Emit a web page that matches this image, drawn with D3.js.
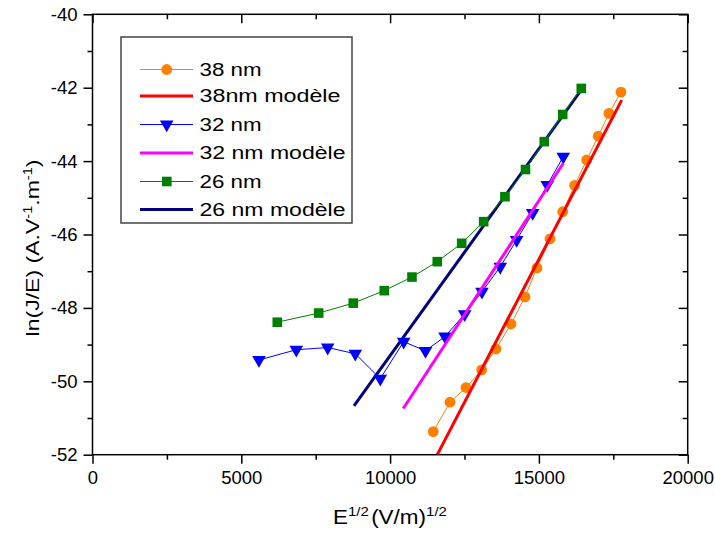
<!DOCTYPE html>
<html><head><meta charset="utf-8">
<script src="https://cdn.jsdelivr.net/npm/d3@7"></script>
<style>
body{margin:0;background:#fff;}
text{font-family:"Liberation Sans",Arial,sans-serif;fill:#000;}
</style></head>
<body>
<svg id="c" width="715" height="534"></svg>
<script>
// ---- data ----
const x38 = [11451,12012,12550,13077,13558,14062,14532,14935,15372,15799,16202,16605,16995,17354,17758];
const y38 = [-51.37,-50.57,-50.17,-49.69,-49.12,-48.44,-47.70,-46.91,-46.12,-45.38,-44.66,-43.97,-43.32,-42.70,-42.12];
const x32 = [5594,6848,7903,8830,9670,10456,11189,11844,12506,13087,13702,14253,14791,15281,15819];
const y32 = [-49.42,-49.14,-49.08,-49.25,-49.93,-48.92,-49.17,-48.78,-48.17,-47.56,-46.88,-46.15,-45.41,-44.65,-43.88];
const x26 = [6209,7600,8763,9804,10735,11585,12405,13144,13860,14549,15180,15799,16424];
const y26 = [-48.39,-48.14,-47.87,-47.53,-47.16,-46.74,-46.24,-45.65,-44.97,-44.23,-43.47,-42.73,-42.02];
const model38X = [11585,17781], model38Y = [-52,-42.34];
const model32X = [10443,15819], model32Y = [-50.74,-44.06];
const model26X = [8786,16424], model26Y = [-50.67,-42.06];
const xTicks = [0,5000,10000,15000,20000];
const yTicks = [-52,-50,-48,-46,-44,-42,-40];
const legendLabels = ["38 nm","38nm modèle","32 nm","32 nm modèle","26 nm","26 nm modèle"];

// ---- layout ----
const L=92.5, R=687.7, T=14.3, B=454.7;
const svg=d3.select("#c");
const x=d3.scaleLinear().domain([0,20000]).range([L,R]);
const y=d3.scaleLinear().domain([-52,-40]).range([B,T]);
const xMinor=d3.range(0,20001,2500).filter(v=>v%5000!==0);
const yMinor=d3.range(-51,-40,2);

svg.append("clipPath").attr("id","pc").append("rect")
  .attr("x",L).attr("y",T).attr("width",R-L).attr("height",B-T);

// axes (bottom/left outward, top/right inward)
function fmt(d){return d3.format("d")(d).replace("−","-");}
const gB=svg.append("g").attr("transform",`translate(0,${B})`)
  .call(d3.axisBottom(x).tickValues(xTicks).tickSize(9).tickSizeOuter(0).tickPadding(7).tickFormat(fmt));
gB.append("g").call(d3.axisBottom(x).tickValues(xMinor).tickSize(5).tickSizeOuter(0).tickFormat(""));
const gL=svg.append("g").attr("transform",`translate(${L},0)`)
  .call(d3.axisLeft(y).tickValues(yTicks).tickSize(9).tickSizeOuter(0).tickPadding(6).tickFormat(fmt));
gL.append("g").call(d3.axisLeft(y).tickValues(yMinor).tickSize(5).tickSizeOuter(0).tickFormat(""));
const gT=svg.append("g").attr("transform",`translate(0,${T})`)
  .call(d3.axisBottom(x).tickValues(xTicks).tickSize(9).tickSizeOuter(0).tickFormat(""));
gT.append("g").call(d3.axisBottom(x).tickValues(xMinor).tickSize(5).tickSizeOuter(0).tickFormat(""));
const gR=svg.append("g").attr("transform",`translate(${R},0)`)
  .call(d3.axisLeft(y).tickValues(yTicks).tickSize(9).tickSizeOuter(0).tickFormat(""));
gR.append("g").call(d3.axisLeft(y).tickValues(yMinor).tickSize(5).tickSizeOuter(0).tickFormat(""));
svg.selectAll(".domain").remove();
svg.selectAll(".tick line").attr("stroke","#000").attr("stroke-width",1.5);
svg.selectAll(".tick text").style("font-size","18.5px").style("font-family","Liberation Sans, Arial, sans-serif");
svg.append("rect").attr("x",L).attr("y",T).attr("width",R-L).attr("height",B-T)
  .attr("fill","none").attr("stroke","#000").attr("stroke-width",1.5);

// series
const plot=svg.append("g").attr("clip-path","url(#pc)");
const line=d3.line().x(d=>x(d[0])).y(d=>y(d[1]));
function zip(a,b){return a.map((v,i)=>[v,b[i]]);}
const d38=zip(x38,y38), d32=zip(x32,y32), d26=zip(x26,y26);
plot.append("path").attr("d",line(zip(model26X,model26Y))).attr("stroke","#000080").attr("stroke-width",3).attr("fill","none");
plot.append("path").attr("d",line(d26)).attr("stroke","#008000").attr("stroke-width",1).attr("fill","none");
plot.selectAll(".sq").data(d26).enter().append("rect")
  .attr("x",d=>x(d[0])-4.8).attr("y",d=>y(d[1])-4.8).attr("width",9.6).attr("height",9.6).attr("fill","#008000");
plot.append("path").attr("d",line(d32)).attr("stroke","#0000FF").attr("stroke-width",1).attr("fill","none");
const tri=d3.symbol().type(d3.symbolTriangle).size(80);
plot.selectAll(".tr").data(d32).enter().append("path")
  .attr("d",tri).attr("transform",d=>`translate(${x(d[0])},${y(d[1])}) rotate(180)`).attr("fill","#0000FF");
plot.append("path").attr("d",line(zip(model32X,model32Y))).attr("stroke","#FF00FF").attr("stroke-width",3).attr("fill","none");
plot.append("path").attr("d",line(d38)).attr("stroke","#FF8000").attr("stroke-width",1).attr("fill","none");
plot.selectAll(".ci").data(d38).enter().append("circle")
  .attr("cx",d=>x(d[0])).attr("cy",d=>y(d[1])).attr("r",5.4).attr("fill","#FF8000");
plot.append("path").attr("d",line(zip(model38X,model38Y))).attr("stroke","#FF0000").attr("stroke-width",3).attr("fill","none");

// legend
const lg=svg.append("g");
lg.append("rect").attr("x",121).attr("y",37).attr("width",231).attr("height",186)
  .attr("fill","#fff").attr("stroke","#444").attr("stroke-width",1.5);
const legendStyle=[
  {c:"#FF8000",w:1,m:"circle"},{c:"#FF0000",w:3,m:null},
  {c:"#0000FF",w:1,m:"tri"},{c:"#FF00FF",w:3,m:null},
  {c:"#008000",w:1,m:"square"},{c:"#000080",w:3,m:null}];
const rowY=[69.5,96,124.5,153,181.5,209.5];
const textW=[62,141,62,146,62,146];
legendLabels.forEach((t,i)=>{
  const s=legendStyle[i], cy=rowY[i];
  lg.append("line").attr("x1",140).attr("x2",193).attr("y1",cy).attr("y2",cy).attr("stroke",s.c).attr("stroke-width",s.w);
  if(s.m==="circle") lg.append("circle").attr("cx",166.7).attr("cy",cy).attr("r",5.4).attr("fill",s.c);
  if(s.m==="tri") lg.append("path").attr("d",tri).attr("transform",`translate(166.7,${cy}) rotate(180)`).attr("fill",s.c);
  if(s.m==="square") lg.append("rect").attr("x",162).attr("y",cy-4.8).attr("width",9.6).attr("height",9.6).attr("fill",s.c);
  lg.append("text").attr("x",199.5).attr("y",cy+6.4).style("font-size","17.5px")
    .attr("textLength",textW[i]).attr("lengthAdjust","spacingAndGlyphs").text(t);
});

// axis titles
function stretch(sel, target, base){
  const w=sel.node().getBBox().width;
  sel.attr("transform", base+` scale(${target/w},1)`);
}
const xt=svg.append("text").attr("x",0).attr("y",0).style("font-size","19.5px");
xt.append("tspan").text("E");
xt.append("tspan").attr("dy",-8).style("font-size","13px").text("1/2");
xt.append("tspan").attr("dy",8).attr("dx",2).text("(V/m)");
xt.append("tspan").attr("dy",-8).style("font-size","13px").text("1/2");
stretch(xt,114,"translate(333,524)");

const yt=svg.append("text").attr("x",0).attr("y",0).attr("text-anchor","middle").style("font-size","19px");
yt.append("tspan").text("ln(J/E) (A.V");
yt.append("tspan").attr("dy",-7).style("font-size","12px").text("-1");
yt.append("tspan").attr("dy",7).text(".m");
yt.append("tspan").attr("dy",-7).style("font-size","12px").text("-1");
yt.append("tspan").attr("dy",7).text(")");
stretch(yt,177,"translate(38.5,248) rotate(-90)");
</script>
</body></html>
